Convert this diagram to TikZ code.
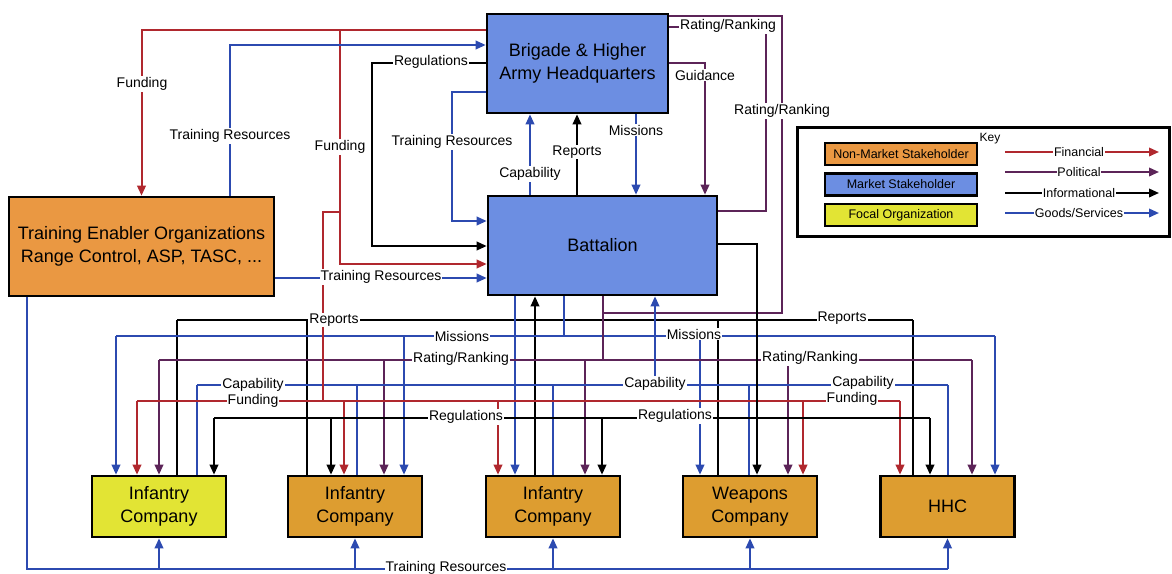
\documentclass[tikz,border=0pt]{standalone}
\usepackage{fontspec}
\setmainfont{Liberation Sans}
\usetikzlibrary{arrows.meta}
\definecolor{nonmkt}{RGB}{234,152,66}
\definecolor{cofill}{RGB}{221,157,48}
\definecolor{mkt}{RGB}{108,142,226}
\definecolor{focal}{RGB}{226,228,52}
\definecolor{finc}{RGB}{176,40,46}
\definecolor{polc}{RGB}{92,36,88}
\definecolor{gdsc}{RGB}{44,74,176}
\tikzset{
  box/.style={draw=black, line width=2.6pt, inner sep=0pt, align=center,
    font=\fontsize{18}{22.5}\selectfont},
  company/.style={box, fill=cofill, minimum width=134, minimum height=61},
  keybox/.style={draw=black, line width=2.4pt, inner sep=0pt,
    minimum width=152, minimum height=22, font=\fontsize{12.5}{14}\selectfont},
  fin/.style={draw=finc, line width=2pt},
  pol/.style={draw=polc, line width=2pt},
  inf/.style={draw=black, line width=2pt},
  gds/.style={draw=gdsc, line width=2pt},
  arr/.style={-{Triangle[length=10pt,width=8.5pt]}},
  lbl/.style={fill=white, inner sep=1pt, font=\fontsize{14}{16}\selectfont},
  keylbl/.style={fill=white, inner sep=0.8pt, font=\fontsize{12.5}{14}\selectfont},
}
\begin{document}
\begin{tikzpicture}[x=1pt, y=-1pt]
\useasboundingbox (0,0) rectangle (1172,573);

% ---------- organisations ----------
\node[box, fill=mkt, minimum width=181, minimum height=99] (brig) at (577.5,63.5)
  {Brigade \& Higher\\Army Headquarters};
\node[box, fill=mkt, minimum width=229, minimum height=99] (bat) at (602.5,245.5) {Battalion};
\node[box, fill=nonmkt, minimum width=265, minimum height=99] (te) at (141.5,246.5)
  {Training Enabler Organizations\\Range Control, ASP, TASC, ...};
\node[company, fill=focal] (inf1) at (159,506.5) {Infantry\\Company};
\node[company] (inf2) at (355,506.5) {Infantry\\Company};
\node[company] (inf3) at (553,506.5) {Infantry\\Company};
\node[company] (wpn) at (750,506.5) {Weapons\\Company};
\node[company] (hhc) at (947.5,506.5) {HHC};

% ---------- key ----------
\node[draw=black, line width=3pt, minimum width=372, minimum height=109, inner sep=0pt] (key) at (983,181.5) {};
\node[font=\fontsize{12}{14}\selectfont, inner sep=0pt] (keyt) at (990,139) {Key};
\node[keybox, fill=nonmkt] (k1) at (901,154) {Non-Market Stakeholder};
\node[keybox, fill=mkt] (k2) at (901,184.5) {Market Stakeholder};
\node[keybox, fill=focal] (k3) at (901,215) {Focal Organization};
\coordinate (fa) at (1005,152); \coordinate (fb) at (1159,152);
\coordinate (pa) at (1005,172); \coordinate (pb) at (1159,172);
\coordinate (ia) at (1005,193); \coordinate (ib) at (1159,193);
\coordinate (ga) at (1005,213); \coordinate (gb) at (1159,213);
\draw[fin,arr] (fa) -- (fb);
\draw[pol,arr] (pa) -- (pb);
\draw[inf,arr] (ia) -- (ib);
\draw[gds,arr] (ga) -- (gb);

% ---------- between headquarters, battalion and enablers ----------
\draw[fin,arr] (brig.west |- 0,30) -| (te.north);
\draw[fin,arr] (brig.west |- 0,30) -| (340,264) -- (bat.west |- 0,264);
\draw[gds,arr] (te.north -| 230,0) |- (brig.west |- 0,45);
\draw[gds,arr] (te.east |- 0,278) -- (bat.west |- 0,278);
\draw[gds,arr] (brig.west |- 0,92) -| (452,221) -- (bat.west |- 0,221);
\draw[inf,arr] (brig.west |- 0,63) -| (372,246) -- (bat.west |- 0,246);
\draw[gds,arr] (bat.north -| 530,0) -- (brig.south -| 530,0);
\draw[inf,arr] (bat.north -| 577,0) -- (brig.south -| 577,0);
\draw[gds,arr] (brig.south -| 636,0) -- (bat.north -| 636,0);
\draw[pol,arr] (brig.east |- 0,63) -| (bat.north -| 705,0);
\draw[pol] (bat.east |- 0,211) -| (766,27) -- (brig.east |- 0,27);
\draw[pol] (brig.east |- 0,16) -| (782,313) -- (603,313);

% ---------- reports (companies up to battalion) ----------
\draw[inf] (177,320) -- (913,320);
\foreach \x/\n in {177/inf1, 307/inf2, 718/wpn, 913/hhc}
  \draw[inf] (\n.north -| \x,0) -- (\x,320);
\draw[inf,arr] (inf3.north -| 535,0) -- (bat.south -| 535,0);

% ---------- missions ----------
\draw[gds] (bat.south -| 564,0) -- (564,336);
\draw[gds] (116,336) -- (995,336);
\foreach \x/\n in {116/inf1, 404/inf2, 700/wpn, 995/hhc}
  \draw[gds,arr] (\x,336) -- (\n.north -| \x,0);
\draw[gds,arr] (bat.south -| 515,0) -- (inf3.north -| 515,0);

% ---------- rating / ranking ----------
\draw[pol] (bat.south -| 603,0) -- (603,360);
\draw[pol] (159,360) -- (972,360);
\foreach \x/\n in {159/inf1, 384/inf2, 585/inf3, 788/wpn, 972/hhc}
  \draw[pol,arr] (\x,360) -- (\n.north -| \x,0);

% ---------- capability ----------
\draw[gds] (197,385) -- (948,385);
\foreach \x/\n in {197/inf1, 357/inf2, 553/inf3, 749/wpn, 948/hhc}
  \draw[gds] (\n.north -| \x,0) -- (\x,385);
\draw[gds,arr] (655,385) -- (bat.south -| 655,0);

% ---------- funding ----------
\draw[fin] (340,212) -- (323,212) -- (323,401);
\draw[fin] (137,401) -- (900,401);
\foreach \x/\n in {137/inf1, 344/inf2, 498/inf3, 803/wpn, 900/hhc}
  \draw[fin,arr] (\x,401) -- (\n.north -| \x,0);

% ---------- regulations ----------
\draw[inf,arr] (bat.east |- 0,244) -| (wpn.north -| 757,0);
\draw[inf] (214,418) -- (930,418);
\foreach \x/\n in {214/inf1, 331/inf2, 602/inf3, 930/hhc}
  \draw[inf,arr] (\x,418) -- (\n.north -| \x,0);

% ---------- training resources to the companies ----------
\draw[gds] (te.south -| 27,0) |- (947.5,569);
\foreach \x/\n in {159/inf1, 355/inf2, 553/inf3, 750/wpn, 947.5/hhc}
  \draw[gds,arr] (\x,569) -- (\n.south -| \x,0);

% ---------- flow labels ----------
\node[lbl] (l01) at (142,84) {Funding};
\node[lbl] (l02) at (230,136) {Training Resources};
\node[lbl] (l03) at (340,147) {Funding};
\node[lbl] (l04) at (431,62) {Regulations};
\node[lbl] (l05) at (452,142) {Training Resources};
\node[lbl] (l06) at (530,174) {Capability};
\node[lbl] (l07) at (577,152) {Reports};
\node[lbl] (l08) at (636,130) {Missions};
\node[lbl] (l09) at (705,75) {Guidance};
\node[lbl] (l10) at (728,26) {Rating/Ranking};
\node[lbl] (l11) at (782,111) {Rating/Ranking};
\node[lbl] (l12) at (381,277) {Training Resources};
\node[lbl] (l13) at (334,320) {Reports};
\node[lbl] (l14) at (842,318) {Reports};
\node[lbl] (l15) at (462,336) {Missions};
\node[lbl] (l16) at (694,334) {Missions};
\node[lbl] (l17) at (461,359) {Rating/Ranking};
\node[lbl] (l18) at (810,358) {Rating/Ranking};
\node[lbl] (l19) at (253,385) {Capability};
\node[lbl] (l20) at (655,384) {Capability};
\node[lbl] (l21) at (863,383) {Capability};
\node[lbl] (l22) at (253,401) {Funding};
\node[lbl] (l23) at (852,399) {Funding};
\node[lbl] (l24) at (466,417) {Regulations};
\node[lbl] (l25) at (675,416) {Regulations};
\node[lbl] (l26) at (446,568) {Training Resources};

% ---------- key labels ----------
\node[keylbl] (kl1) at (1079,152) {Financial};
\node[keylbl] (kl2) at (1079,172) {Political};
\node[keylbl] (kl3) at (1079,193) {Informational};
\node[keylbl] (kl4) at (1079,213) {Goods/Services};
\end{tikzpicture}
\end{document}
